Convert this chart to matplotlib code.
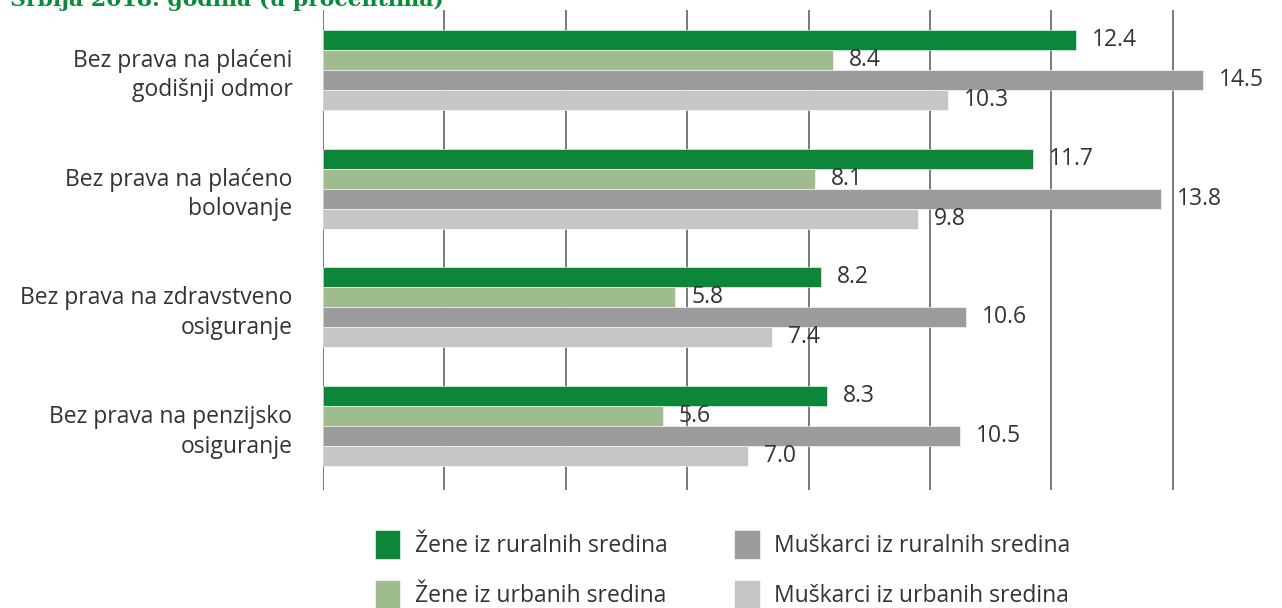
import matplotlib.pyplot as plt
import numpy as np

plt.rcParams['font.family'] = ['Open Sans', 'DejaVu Sans']

CATEGORIES = [
    "Bez prava na plaćeni\ngodišnji odmor",
    "Bez prava na plaćeno\nbolovanje",
    "Bez prava na zdravstveno\nosiguranje",
    "Bez prava na penzijsko\nosiguranje",
]
SERIES = [
    "Žene iz ruralnih sredina",
    "Žene iz urbanih sredina",
    "Muškarci iz ruralnih sredina",
    "Muškarci iz urbanih sredina",
]
women_rural = [12.4, 11.7, 8.2, 8.3]
women_urban = [8.4, 8.1, 5.8, 5.6]
men_rural = [14.5, 13.8, 10.6, 10.5]
men_urban = [10.3, 9.8, 7.4, 7.0]

COLORS = ["#0c8638", "#9fbc8f", "#9c9c9c", "#c6c6c6"]
TITLE = "Srbija 2018. godina (u procentima)"
TEXT = "#333333"

fig = plt.figure(figsize=(12.82, 6.08), dpi=100)
ax = fig.add_axes([323 / 1282, 1 - 490 / 608, 1 - 323 / 1282, 480 / 608])

bar_h = 20 / 119
y = np.arange(len(CATEGORIES))
values = [women_rural, women_urban, men_rural, men_urban]

handles = []
for i, (vals, color, name) in enumerate(zip(values, COLORS, SERIES)):
    pos = y - 1.5 * bar_h + i * bar_h
    bars = ax.barh(pos, vals, height=bar_h, color=color, edgecolor="white",
                   linewidth=0.4, label=name, zorder=2)
    handles.append(bars)
    for p, v in zip(pos, vals):
        ax.annotate(f"{v:.1f}", (v, p), xytext=(11.5, 0), textcoords="offset points",
                    va="center", ha="left", fontsize=16.5, color=TEXT, zorder=3)

ax.set_xlim(0, 15.8)
ax.set_ylim(3 + 64 / 119, -60 / 119)
for gx in range(0, 16, 2):
    ax.axvline(gx, color="#555555", linewidth=1.1, zorder=1)

ax.set_yticks(y)
ax.set_yticklabels(CATEGORIES, fontsize=16.5, color=TEXT, ha="right",
                   linespacing=1.3)
ax.tick_params(axis="y", length=0, pad=22)
ax.set_xticks([])
for s in ax.spines.values():
    s.set_visible(False)

fig.text(10 / 1282, 1 - 6 / 608, TITLE, fontsize=15.8, fontweight="bold",
         family="DejaVu Serif", color="#0b8a3a", ha="left", va="baseline")

fig.legend(handles=handles, labels=SERIES, ncol=2, loc="upper left",
           bbox_to_anchor=(375 / 1282, 1 - 530 / 608), frameon=False,
           borderpad=0, borderaxespad=0,
           fontsize=16.5, handlelength=1.1, handleheight=1.6,
           columnspacing=2.9, labelspacing=0.88, handletextpad=0.65,
           labelcolor=TEXT)

fig.savefig("out.png", dpi=100)
